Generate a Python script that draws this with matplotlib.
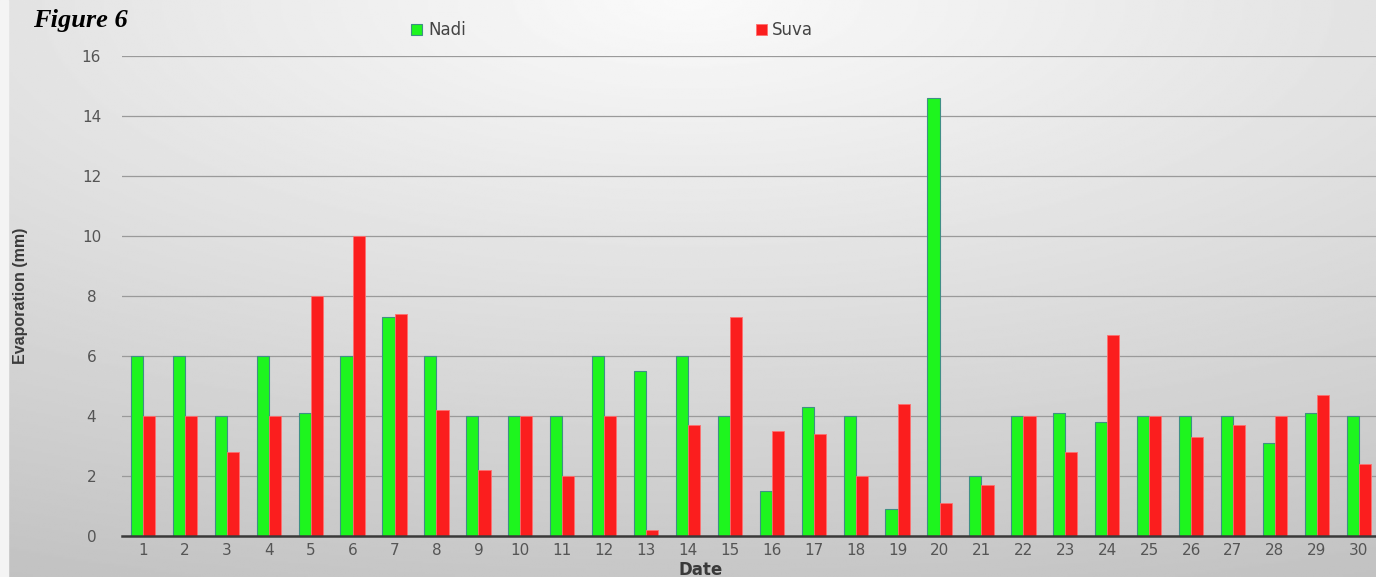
import numpy as np
import matplotlib
matplotlib.use("Agg")
import matplotlib.pyplot as plt

days = list(range(1, 31))
nadi = [6, 6, 4, 6, 4.1, 6, 7.3, 6, 4, 4, 4, 6, 5.5, 6, 4, 1.5, 4.3, 4, 0.9, 14.6,
        2, 4, 4.1, 3.8, 4, 4, 4, 3.1, 4.1, 4]
suva = [4, 4, 2.8, 4, 8, 10, 7.4, 4.2, 2.2, 4, 2, 4, 0.2, 3.7, 7.3, 3.5, 3.4, 2, 4.4, 1.1,
        1.7, 4, 2.8, 6.7, 4, 3.3, 3.7, 4, 4.7, 2.4]
yticks = list(range(0, 17, 2))

fig = plt.figure(figsize=(13.76, 5.77), dpi=100)

# gray gradient background, lighter towards top centre
bg = fig.add_axes([0, 0, 1, 1], zorder=-10)
yy, xx = np.mgrid[0:1:300j, 0:1:600j]
d = np.sqrt(((xx - 0.5) / 1.1) ** 2 + (yy / 1.0) ** 2)
d = np.clip(d / d.max(), 0, 1)
bg.imshow(0.98 - 0.22 * d, cmap="gray", vmin=0, vmax=1, aspect="auto",
          extent=[0, 1, 1, 0])
bg.axvspan(0, 0.006, color="#f4f4f4")
bg.set_xlim(0, 1)
bg.set_ylim(1, 0)
bg.axis("off")

ax = fig.add_axes([0.0887, 0.071, 0.914, 0.832])
ax.patch.set_alpha(0)

x = np.array(days)
w = 0.29
ax.bar(x - w / 2, nadi, w, color="#1ef51e", edgecolor="#3f8f86", linewidth=0.8,
       label="Nadi", zorder=3)
ax.bar(x + w / 2, suva, w, color="#fb1e1e", edgecolor="#ff7070", linewidth=0.6,
       label="Suva", zorder=3)

ax.set_xlim(0.5, 30.5)
ax.set_ylim(0, 16)
ax.set_xticks(days)
ax.set_yticks(yticks)
ax.tick_params(length=0, labelsize=11, colors="#555555")
ax.tick_params(axis="x", pad=5)
ax.tick_params(axis="y", pad=22)
for lbl in ax.get_yticklabels():
    lbl.set_horizontalalignment("center")
ax.grid(axis="y", color="#9a9a9a", linewidth=0.9, zorder=0)
for s in ["left", "right", "top"]:
    ax.spines[s].set_visible(False)
ax.spines["bottom"].set_color("#3a3a3a")
ax.spines["bottom"].set_linewidth(1.8)
ax.spines["bottom"].set_zorder(4)

ax.set_xlabel("Date", fontsize=12, fontweight="bold", color="#3a3a3a", labelpad=0)
ax.xaxis.set_label_coords(0.46, -0.052)
ax.set_ylabel("Evaporation (mm)", fontsize=11.5, fontweight="bold", color="#3a3a3a",
              family=["Liberation Sans Narrow", "Liberation Sans", "DejaVu Sans"])
ax.yaxis.set_label_coords(-0.075, 0.5)

fig.legend(loc="center", bbox_to_anchor=(0.445, 0.948), ncol=2, frameon=False,
           fontsize=12, columnspacing=17.4, handlelength=0.65, handleheight=0.65,
           handletextpad=0.35, labelcolor="#444444")

fig.text(0.024, 0.965, "Figure 6", fontsize=19, fontweight="bold", style="italic",
         family=["Liberation Serif", "DejaVu Serif"], va="center")

fig.savefig("out.png", dpi=100)
